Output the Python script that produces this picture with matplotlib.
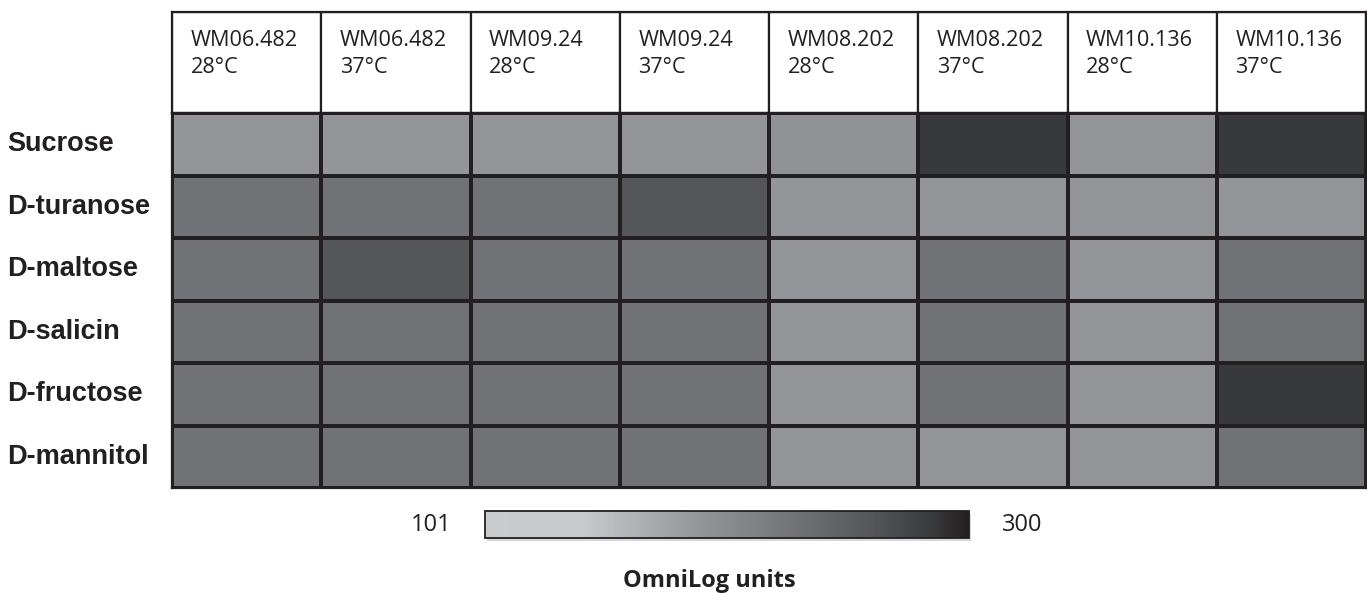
import numpy as np
import matplotlib
matplotlib.use("Agg")
import matplotlib.pyplot as plt
from matplotlib.colors import LinearSegmentedColormap, Normalize
from matplotlib.patches import Rectangle
import matplotlib.cm as cm

# ---- data ----
strains = ["WM06.482", "WM06.482", "WM09.24", "WM09.24",
           "WM08.202", "WM08.202", "WM10.136", "WM10.136"]
temps = ["28°C", "37°C", "28°C", "37°C", "28°C", "37°C", "28°C", "37°C"]
substrates = ["Sucrose", "D-turanose", "D-maltose", "D-salicin",
              "D-fructose", "D-mannitol"]

sucrose = [190, 190, 190, 190, 192, 286, 190, 286]
turanose = [230, 230, 230, 260, 190, 190, 190, 190]
maltose = [230, 260, 230, 230, 190, 230, 190, 230]
salicin = [230, 230, 230, 230, 190, 230, 190, 230]
fructose = [230, 230, 230, 230, 190, 230, 190, 286]
mannitol = [230, 230, 230, 230, 190, 190, 190, 230]

vmin, vmax = 101, 300
scale_label = "OmniLog units"

values = np.array([sucrose, turanose, maltose, salicin, fructose, mannitol])

# grey ramp used for the cells and the scale bar
cmap = LinearSegmentedColormap.from_list(
    "omnilog_grey",
    [(0.0, "#cacbcd"), (0.2, "#c8c9cb"), (0.45, "#939497"),
     (0.65, "#707175"), (0.8, "#555658"), (0.93, "#38393a"),
     (1.0, "#231f20")])
norm = Normalize(vmin=vmin, vmax=vmax)

W, H = 1367, 593
fig = plt.figure(figsize=(W / 100, H / 100), dpi=100)
fig.patch.set_facecolor("white")

line_c = "#231f20"
lw = 1.6
head_font = ["Open Sans", "DejaVu Sans"]
row_font = ["Liberation Sans", "DejaVu Sans"]


def fx(px):
    return px / W


def fy(py):
    return 1 - py / H


left, right = 172, 1366
top_head, top_grid, bottom = 12, 113, 488
ncol, nrow = len(strains), len(substrates)

# ---- heat map cells ----
ax = fig.add_axes([fx(left), fy(bottom), fx(right - left), fy(top_grid) - fy(bottom)])
ax.pcolormesh(np.arange(ncol + 1), np.arange(nrow + 1), values,
              cmap=cmap, norm=norm, edgecolors=line_c, linewidth=lw)
ax.set_xlim(0, ncol)
ax.set_ylim(nrow, 0)
ax.set_xticks([])
ax.set_yticks([])
for s in ax.spines.values():
    s.set_color(line_c)
    s.set_linewidth(lw)

# row labels: fixed offset from the left figure edge, centred on each row
row_h = (bottom - top_grid) / nrow
for i, name in enumerate(substrates):
    fig.text(fx(7), fy(top_grid + (i + 0.5) * row_h), name,
             fontsize=19.5, fontweight="bold", family=row_font,
             color="#231f20", va="center", ha="left")

# ---- header row ----
hax = fig.add_axes([fx(left), fy(top_grid), fx(right - left), fy(top_head) - fy(top_grid)])
hax.set_xlim(0, ncol)
hax.set_ylim(1, 0)
hax.set_xticks([])
hax.set_yticks([])
for s in hax.spines.values():
    s.set_color(line_c)
    s.set_linewidth(lw)
col_w = (right - left) / ncol
for j in range(ncol):
    hax.add_patch(Rectangle((j, 0), 1, 1, facecolor="white",
                            edgecolor=line_c, linewidth=lw))
    x0 = fx(left + j * col_w + 18.5)
    fig.text(x0, fy(46), strains[j], fontsize=15.6, family=head_font,
             color="#231f20", va="baseline", ha="left")
    fig.text(x0, fy(73), temps[j], fontsize=15.6, family=head_font,
             color="#231f20", va="baseline", ha="left")

# ---- scale bar ----
cb_l, cb_r, cb_t, cb_b = 485, 969, 511, 538
# soft drop shadow under the bar
sax = fig.add_axes([fx(cb_l + 2), fy(cb_b + 3), fx(cb_r - cb_l), fy(cb_t) - fy(cb_b)])
sax.set_axis_off()
sax.add_patch(Rectangle((0, 0), 1, 1, transform=sax.transAxes,
                        facecolor="#bdbdbd", edgecolor="none", alpha=0.6))
cax = fig.add_axes([fx(cb_l), fy(cb_b), fx(cb_r - cb_l), fy(cb_t) - fy(cb_b)])
cb = fig.colorbar(cm.ScalarMappable(norm=norm, cmap=cmap), cax=cax,
                  orientation="horizontal")
cb.set_ticks([])
cb.outline.set_edgecolor(line_c)
cb.outline.set_linewidth(1.3)

fig.text(fx(452), fy(525), str(vmin), ha="right", va="center",
         fontsize=17, family=head_font, color="#231f20")
fig.text(fx(1002), fy(525), str(vmax), ha="left", va="center",
         fontsize=17, family=head_font, color="#231f20")
fig.text(fx(709), fy(587), scale_label, ha="center", va="baseline",
         fontsize=17, fontweight="bold", family=head_font, color="#231f20")

fig.savefig("out.png", dpi=100, facecolor="white")
